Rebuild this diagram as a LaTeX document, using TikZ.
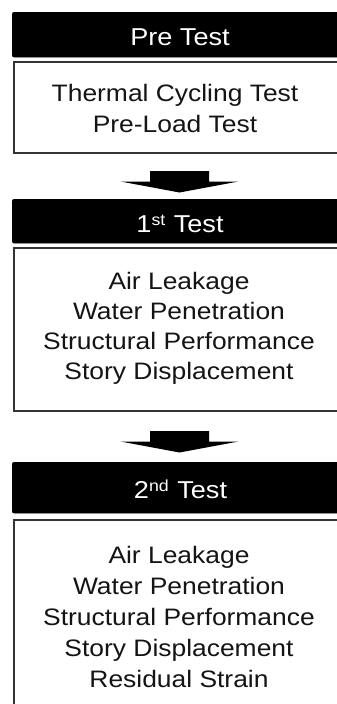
\documentclass[tikz,border=0pt]{standalone}
\usepackage{fontspec}
\setmainfont[FakeStretch=1.11]{Liberation Sans}
\begin{document}
\begin{tikzpicture}[x=1pt,y=-1pt,
  hdr/.style={fill=black, draw=black, rounded corners=2pt, inner sep=0pt, anchor=north west},
  body/.style={draw=black!80, line width=2pt, fill=white, inner sep=0pt, anchor=north west},
  hdrtext/.style={text=white, anchor=base, inner sep=0pt, font=\fontsize{24.4}{29}\selectfont},
  line/.style={text=black!92, anchor=base, inner sep=0pt, font=\fontsize{23.8}{29}\selectfont},
  blockarrow/.style={fill=black, draw=none}]
\useasboundingbox (0,0) rectangle (337,704);
\clip (0,0) rectangle (337,704);
\newcommand{\supx}[1]{\raisebox{6.5pt}{\fontsize{16}{16}\selectfont #1}}
% headers
\node[hdr, minimum width=336pt, minimum height=45pt] (h1) at (12,12) {};
\node[hdr, minimum width=336pt, minimum height=44pt] (h2) at (12,199) {};
\node[hdr, minimum width=336pt, minimum height=51pt] (h3) at (12,462) {};
% bodies
\node[body, minimum width=335pt, minimum height=91pt] (b1) at (13,61) {};
\node[body, minimum width=335pt, minimum height=163pt] (b2) at (13,247) {};
\node[body, minimum width=335pt, minimum height=210pt] (b3) at (13,519) {};
% header texts
\node[hdrtext] (h1t) at (180,45) {Pre Test};
\node[hdrtext] (h2t) at (180,232.3) {1\supx{st}\hspace{1pt} Test};
\node[hdrtext] (h3t) at (180.5,498.3) {2\supx{nd}\hspace{1pt} Test};
% body texts
\node[line] (b1a) at (175,101) {Thermal Cycling Test};
\node[line] (b1b) at (175,132.3) {Pre-Load Test};
\node[line] (b2a) at (179,289) {Air Leakage};
\node[line] (b2b) at (179,319) {Water Penetration};
\node[line] (b2c) at (179,349) {Structural Performance};
\node[line] (b2d) at (179,379) {Story Displacement};
\node[line] (b3a) at (179,563) {Air Leakage};
\node[line] (b3b) at (179,594) {Water Penetration};
\node[line] (b3c) at (179,625) {Structural Performance};
\node[line] (b3d) at (179,656) {Story Displacement};
\node[line] (b3e) at (179,687) {Residual Strain};
% block arrows between boxes
\coordinate (a1) at (179.5,171);
\coordinate (a2) at (179.5,431);
\foreach \a in {a1,a2}
  \fill[blockarrow] (\a) ++(-29.5,0) -- ++(59,0) -- ++(0,10.5) -- ++(29.5,0)
     -- ++(-59,11) -- ++(-59,-11) -- ++(29.5,0) -- cycle;
\end{tikzpicture}
\end{document}
